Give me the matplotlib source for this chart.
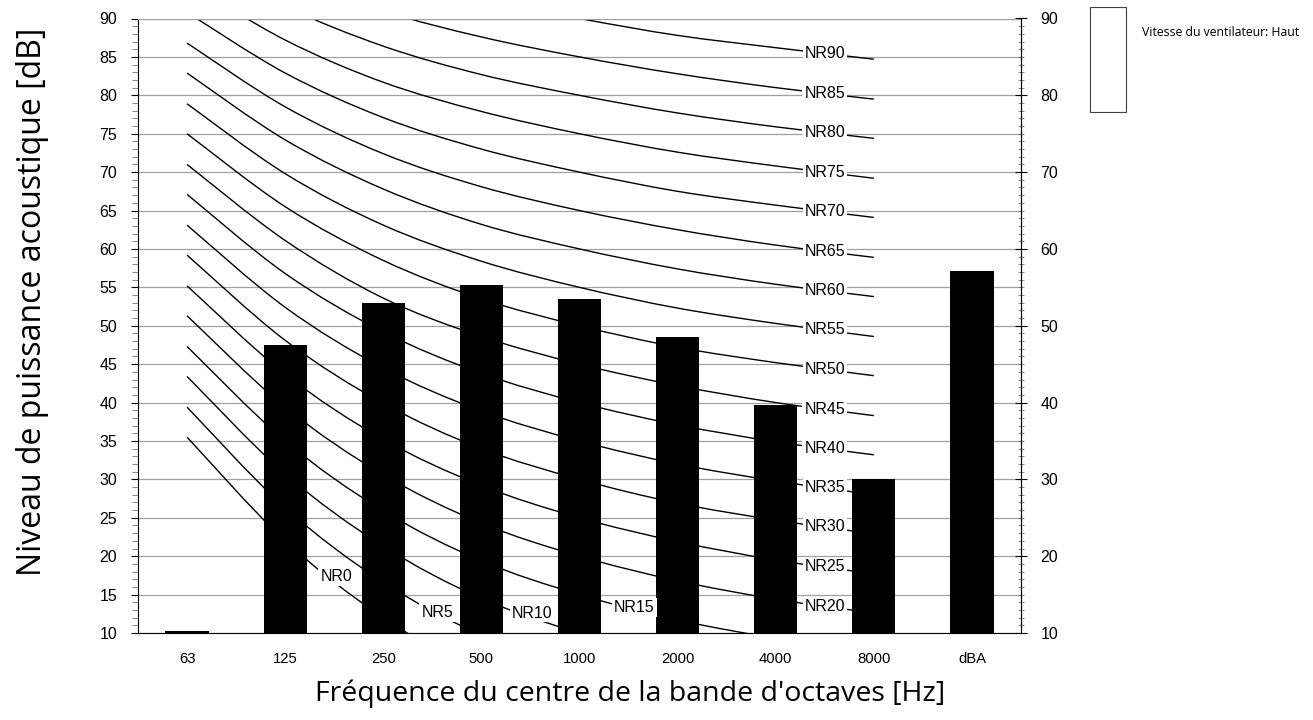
import numpy as np
import matplotlib
matplotlib.use("Agg")
import matplotlib.pyplot as plt
from matplotlib.ticker import MultipleLocator
from matplotlib.patches import Rectangle, PathPatch
from matplotlib.path import Path

# octave bands and measured sound power levels
bands = ['63', '125', '250', '500', '1000', '2000', '4000', '8000', 'dBA']
levels = [10.3, 47.5, 52.9, 55.35, 53.45, 48.5, 39.7, 30.0, 57.1]

# NR curves (63 Hz ... 8000 Hz)
nr_levels = [0, 5, 10, 15, 20, 25, 30, 35, 40, 45, 50, 55, 60, 65, 70, 75, 80, 85, 90]
nr_curves = [
    [35.5, 22.0, 12.0, 4.8, 0.0, -3.5, -6.1, -8.0],
    [39.4, 26.3, 16.6, 9.7, 5.0, 1.6, -1.0, -2.8],
    [43.4, 30.7, 21.3, 14.5, 10.0, 6.6, 4.2, 2.3],
    [47.3, 35.0, 25.9, 19.4, 15.0, 11.7, 9.3, 7.4],
    [51.3, 39.4, 30.6, 24.3, 20.0, 16.8, 14.4, 12.6],
    [55.2, 43.7, 35.2, 29.2, 25.0, 21.9, 19.5, 17.7],
    [59.2, 48.1, 39.9, 34.0, 30.0, 26.9, 24.7, 22.9],
    [63.1, 52.4, 44.5, 38.9, 35.0, 32.0, 29.8, 28.0],
    [67.1, 56.8, 49.2, 43.8, 40.0, 37.1, 34.9, 33.2],
    [71.0, 61.1, 53.6, 48.6, 45.0, 42.2, 40.0, 38.3],
    [75.0, 65.5, 58.5, 53.5, 50.0, 47.2, 45.2, 43.5],
    [78.9, 69.8, 63.1, 58.4, 55.0, 52.3, 50.3, 48.6],
    [82.9, 74.2, 67.8, 63.2, 60.0, 57.4, 55.4, 53.8],
    [86.8, 78.5, 72.4, 68.1, 65.0, 62.5, 60.5, 58.9],
    [90.8, 82.9, 77.1, 73.0, 70.0, 67.5, 65.7, 64.1],
    [94.7, 87.2, 81.7, 77.9, 75.0, 72.6, 70.8, 69.2],
    [98.7, 91.6, 86.4, 82.7, 80.0, 77.7, 75.9, 74.4],
    [102.6, 95.9, 91.0, 87.6, 85.0, 82.8, 81.0, 79.5],
    [106.6, 100.3, 95.7, 92.5, 90.0, 87.8, 86.2, 84.7],
]

# hand placed labels for the low curves (x index, level)
low_label_pos = {0: (1.52, 17.3), 5: (2.55, 12.7), 10: (3.52, 12.6), 15: (4.56, 13.3)}

tick_font = 'Liberation Sans'
title_font = 'Open Sans'


def smooth_path(xv, yv):
    # Excel style smoothed line through the points (Catmull-Rom as Bezier)
    pts = np.column_stack([xv, yv]).astype(float)
    n = len(pts)
    verts = [pts[0]]
    codes = [Path.MOVETO]
    for i in range(n - 1):
        p0 = pts[i - 1] if i > 0 else pts[i]
        p1 = pts[i]
        p2 = pts[i + 1]
        p3 = pts[i + 2] if i + 2 < n else pts[i + 1]
        verts += [p1 + (p2 - p0) / 6, p2 - (p3 - p1) / 6, p2]
        codes += [Path.CURVE4] * 3
    return Path(verts, codes)


fig = plt.figure(figsize=(13.13, 7.2), dpi=100)
ax = fig.add_axes([138 / 1313, 87 / 720, 883 / 1313, 614.5 / 720])

x = np.arange(len(bands))
ax.bar(x, levels, width=0.44, bottom=0, color='black', zorder=3)

xs = np.arange(8)
for nr, vals in zip(nr_levels, nr_curves):
    ax.add_patch(PathPatch(smooth_path(xs, vals), fill=False, ec='black', lw=1.0, zorder=2))
    if nr in low_label_pos:
        lx, ly = low_label_pos[nr]
    else:
        lx = 6.5
        ly = np.interp(lx, xs, vals)
    ax.text(lx, ly, 'NR%d' % nr, ha='center', va='center', fontsize=11.5,
            family=tick_font, zorder=4,
            bbox=dict(boxstyle='square,pad=0.12', fc='white', ec='none'))

ax.set_xlim(-0.5, 8.5)
ax.set_ylim(10, 90)
ax.set_xticks(x)
ax.set_xticklabels(bands, family=tick_font, fontsize=10.7)
ax.tick_params(axis='x', length=0, pad=14)

ax.yaxis.set_major_locator(MultipleLocator(5))
ax.yaxis.set_minor_locator(MultipleLocator(1))
ax.tick_params(axis='y', which='major', direction='out', length=5, pad=10, labelsize=11.5)
ax.tick_params(axis='y', which='minor', direction='out', length=4, color='#777777')
for lab in ax.get_yticklabels():
    lab.set_family(tick_font)
ax.yaxis.grid(True, color='#a0a0a0', lw=0.9)
ax.set_axisbelow(True)

ax.spines['top'].set_color('#a0a0a0')
for s in ['left', 'bottom', 'right']:
    ax.spines[s].set_color('black')

ax2 = ax.twinx()
ax2.set_ylim(10, 90)
ax2.yaxis.set_major_locator(MultipleLocator(10))
ax2.yaxis.set_minor_locator(MultipleLocator(1))
ax2.tick_params(axis='y', which='major', direction='inout', length=8, pad=10, labelsize=11.5)
ax2.tick_params(axis='y', which='minor', direction='inout', length=5, color='#777777')
for lab in ax2.get_yticklabels():
    lab.set_family(tick_font)
for s in ['top', 'left', 'bottom']:
    ax2.spines[s].set_visible(False)

fig.text(33 / 1313, 1 - 302 / 720, 'Niveau de puissance acoustique [dB]', rotation=90,
         ha='center', va='center', fontsize=23, family=title_font)
fig.text(630 / 1313, 1 - 694 / 720, "Fréquence du centre de la bande d'octaves [Hz]",
         ha='center', va='center', fontsize=20.5, family=title_font)

# empty legend box
fig.add_artist(Rectangle((1090 / 1313, 1 - 112 / 720), 36 / 1313, 105 / 720,
                         transform=fig.transFigure, fill=False, ec='#404040', lw=0.8))
fig.text(1142 / 1313, 1 - 33 / 720, 'Vitesse du ventilateur: Haut', ha='left', va='center',
         fontsize=8.8, family=title_font)

fig.savefig('out.png', dpi=100)
